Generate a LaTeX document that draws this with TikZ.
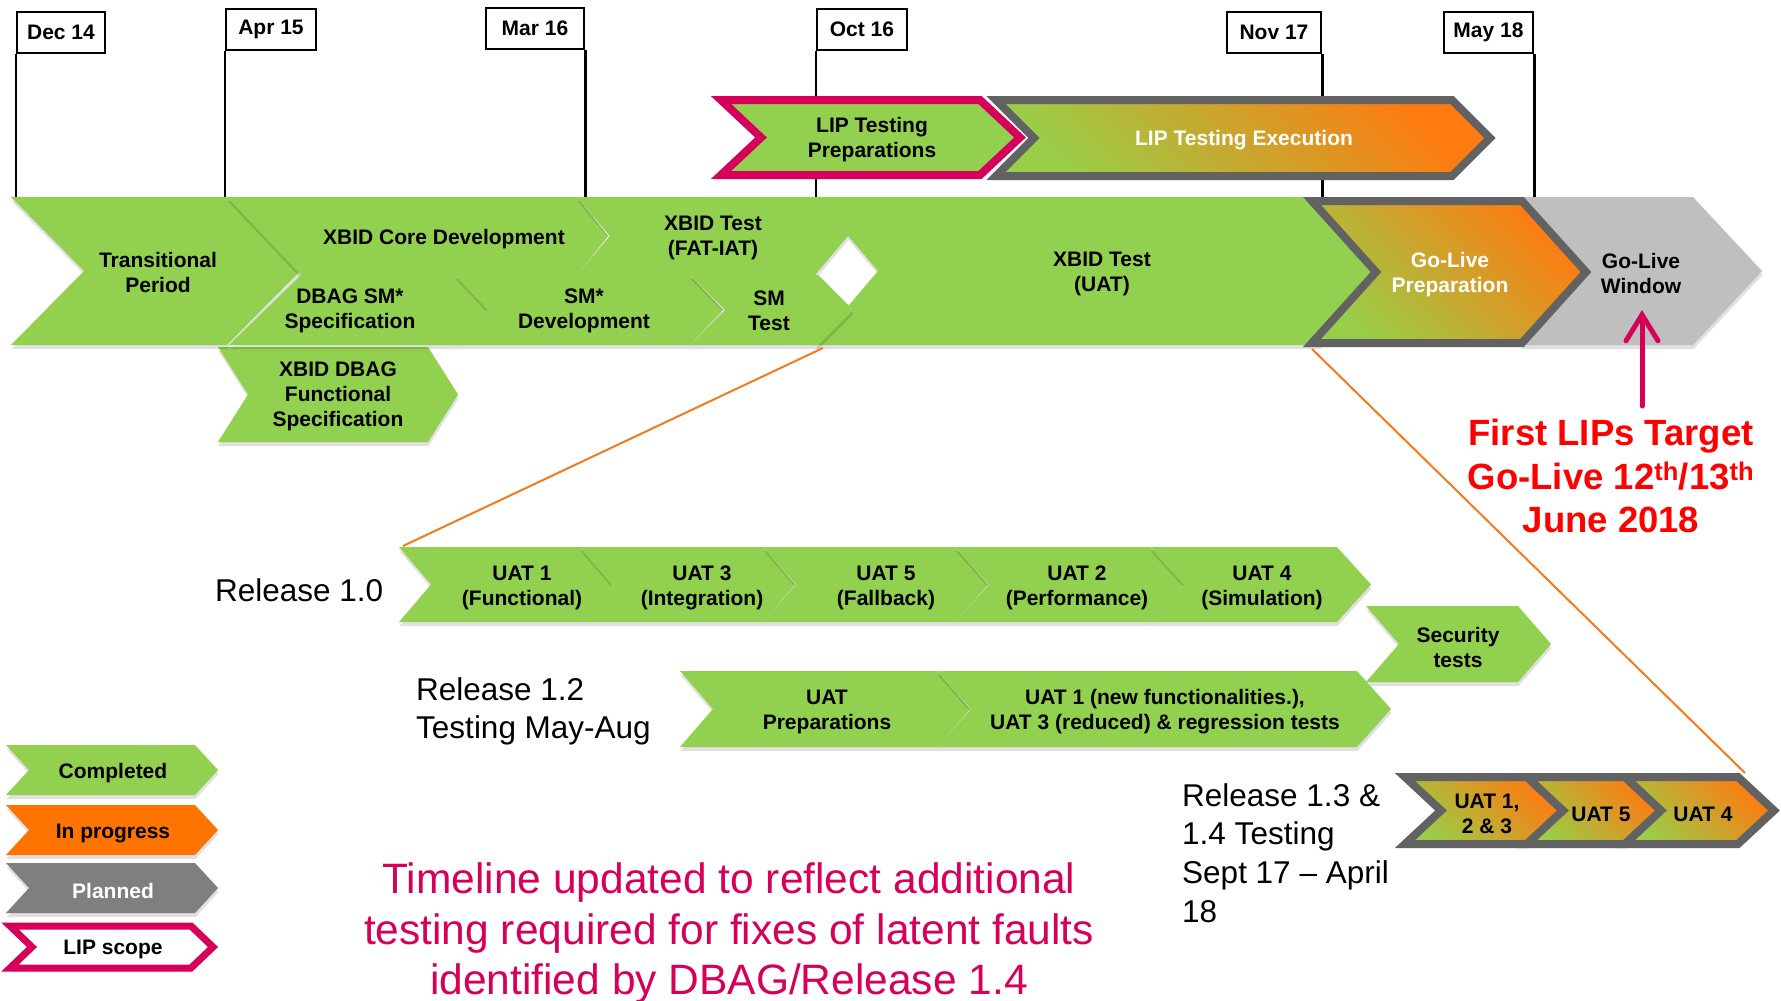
\documentclass[tikz,border=0pt]{standalone}
\usepackage{fontspec}
\setmainfont{Liberation Sans}
\usetikzlibrary{shadows,arrows.meta}
\definecolor{cgreen}{HTML}{92D050}
\definecolor{corange}{HTML}{FF7300}
\definecolor{cgreyd}{HTML}{7F7F7F}
\definecolor{cgreyl}{HTML}{BFBFBF}
\definecolor{cborder}{HTML}{626262}
\definecolor{cpink}{HTML}{D6005B}
\definecolor{cgradtop}{HTML}{FF7A10}
\definecolor{cgradbot}{HTML}{9ACD48}
\definecolor{cline}{HTML}{F47A20}
\newcommand\mychev[6][]{%
  \pgfmathsetmacro\chevmid{(#4+#5)/2}%
  \path[#1] (#2,#4) -- (#3,#4) -- ({#3+#6},\chevmid) -- (#3,#5) -- (#2,#5) -- ({#2+#6},\chevmid) -- cycle;}
\tikzset{
  shd/.style={drop shadow={shadow xshift=0.5pt,shadow yshift=-4pt,opacity=0.12,fill=black}},
  shp/.style={fill=cgreen,shd},
  gradshape/.style={draw=cborder,line width=8pt,top color=cgradtop,bottom color=cgradbot,shading angle=-45,shd},
  lipshape/.style={draw=cpink,line width=8pt,fill=cgreen,shd},
  lbl/.style={font=\bfseries\fontsize{21}{25}\selectfont,align=center,inner sep=0pt,yshift=-2pt},
  datebox/.style={draw,line width=2.5pt,fill=white,font=\bfseries\fontsize{21}{25}\selectfont,inner sep=0pt,minimum height=41pt},
  tick/.style={line width=2.5pt},
  reltxt/.style={font=\fontsize{31.5}{38.6}\selectfont,align=left,inner sep=0pt,anchor=west},
  orline/.style={draw=cline,line width=2pt},
}
\begin{document}
\begin{tikzpicture}[x=1pt,y=-1pt]
\useasboundingbox[fill=white] (0,0) rectangle (1781,1001);
\coordinate (bandtop) at (0,197);
% date boxes
\node[datebox,minimum width=88pt] (d1) at (61,32.5) {Dec 14};
\node[datebox,minimum width=90pt] (d2) at (271,29.5) {Apr 15};
\node[datebox,minimum width=98pt] (d3) at (535,28.5) {Mar 16};
\node[datebox,minimum width=90pt] (d4) at (862,29.5) {Oct 16};
\node[datebox,minimum width=94pt] (d5) at (1274,32.5) {Nov 17};
\node[datebox,minimum width=89pt] (d6) at (1488.5,32.5) {May 18};
\draw[tick] (d1.south west) -- (d1.south west |- bandtop);
\draw[tick] (d2.south west) -- (d2.south west |- bandtop);
\draw[tick] (d3.south east) -- (d3.south east |- bandtop);
\draw[tick] (d4.south west) -- (d4.south west |- bandtop);
\draw[tick] (d5.south east) -- (d5.south east |- bandtop);
\draw[tick] (d6.south east) -- (d6.south east |- bandtop);
% top LIP row
\mychev[lipshape]{721}{980}{100}{175}{40}
\mychev[gradshape]{996}{1452}{100}{176}{38}
% main band
\mychev[shp]{218}{428}{347}{442}{30}
\mychev[shp]{11}{227}{197}{345}{73}
\path[shp] (815,197) -- (1320,197) -- (1380,271) -- (1320,345) -- (815,345) -- (878,271) -- cycle;
\mychev[shp,fill=cgreyl]{1521}{1693}{197}{345}{69}
\mychev[gradshape]{1312}{1522}{201}{343}{64}
\path[shp] (227,197) -- (577,197) -- (608,236) -- (577,275) -- (301,275) -- cycle;
\mychev[shp]{577}{815}{197}{275}{33}
\path[shp] (301,275) -- (455,275) -- (488,310) -- (455,345) -- (229,345) -- cycle;
\mychev[shp]{455}{690}{275}{345}{33}
\mychev[shp]{690}{818}{275}{345}{35}
% release 1.0
\mychev[shp]{399}{580}{547}{622}{32}
\mychev[shp]{580}{763}{547}{622}{32}
\mychev[shp]{763}{955}{547}{622}{33}
\mychev[shp]{955}{1150}{547}{622}{34}
\mychev[shp]{1150}{1337}{547}{622}{34}
\mychev[shp]{1366}{1518}{606}{682}{33}
% release 1.2
\mychev[shp]{680}{937}{671}{747}{33}
\mychev[shp]{937}{1357}{671}{747}{34}
% release 1.3
\mychev[gradshape]{1405}{1527}{777}{844}{36}
\mychev[gradshape]{1527}{1625}{777}{844}{36}
\mychev[gradshape]{1625}{1738}{777}{844}{36}
% legend
\mychev[shp]{6}{195}{745}{795}{23}
\mychev[shp,fill=corange]{6}{195}{805}{855}{23}
\mychev[shp,fill=cgreyd]{6}{195}{863}{913}{23}
\mychev[draw=cpink,line width=7pt,fill=white,shd]{10}{191}{926}{968}{22}
% labels
\node[lbl] (lipprep) at (872,138) {LIP Testing\\Preparations};
\node[lbl,text=white] (lipexec) at (1244,138) {LIP Testing Execution};
\node[lbl] (trans) at (158,270) {Transitional\\Period};
\node[lbl] (coredev) at (444,237) {XBID Core Development};
\node[lbl] (fatiat) at (713,236) {XBID Test\\(FAT-IAT)};
\node[lbl] (dbagsm) at (350,309) {DBAG SM*\\Specification};
\node[lbl] (smdev) at (584,309) {SM*\\Development};
\node[lbl] (smtest) at (769,309) {SM\\Test};
\node[lbl] (dbagfs) at (338,394) {XBID DBAG\\Functional\\Specification};
\node[lbl] (uat) at (1102,272) {XBID Test\\(UAT)};
\node[lbl,text=white] (glprep) at (1450,273) {Go-Live\\Preparation};
\node[lbl] (glwin) at (1641,271) {Go-Live\\Window};
\node[lbl] (u1) at (522,586) {UAT 1\\(Functional)};
\node[lbl] (u3) at (702,586) {UAT 3\\(Integration)};
\node[lbl] (u5) at (886,586) {UAT 5\\(Fallback)};
\node[lbl] (u2) at (1077,586) {UAT 2\\(Performance)};
\node[lbl] (u4) at (1262,586) {UAT 4\\(Simulation)};
\node[lbl] (sec) at (1458,645) {Security\\tests};
\node[lbl] (uprep) at (827,710) {UAT\\Preparations};
\node[lbl] (unew) at (1165,710) {UAT 1 (new functionalities.),\\UAT 3 (reduced) \& regression tests};
\node[lbl] (v123) at (1487,812) {UAT 1,\\2 \& 3};
\node[lbl] (v5) at (1601,812) {UAT 5};
\node[lbl] (v4) at (1703,812) {UAT 4};
\node[lbl] (lg1) at (113,771) {Completed};
\node[lbl] (lg2) at (113,831) {In progress};
\node[lbl,text=white] (lg3) at (113,889) {Planned};
\node[lbl] (lg4) at (113,947) {LIP scope};
% release texts
\node[reltxt] (r10) at (215,590) {Release 1.0};
\node[reltxt] (r12) at (416,711.5) {Release 1.2\\Testing May-Aug};
\node[reltxt] (r13) at (1182,853) {Release 1.3 \&\\1.4 Testing\\Sept 17 – April\\18};
% notes
\node[font=\bfseries\fontsize{36.5}{43.5}\selectfont,text=red,align=center,inner sep=0pt] (target) at (1611,476) {First LIPs Target\\Go-Live 12\textsuperscript{th}/13\textsuperscript{th}\\June 2018};
\node[font=\fontsize{42.5}{50.5}\selectfont,text=cpink,align=center,inner sep=0pt] (note) at (729,933.5) {Timeline updated to reflect additional\\testing required for fixes of latent faults\\identified by DBAG/Release 1.4};
% connectors
\coordinate (smbot) at (823,348);
\coordinate (r10top) at (403,546);
\coordinate (glbot) at (1312,349);
\coordinate (v4top) at (1745,773);
\draw[orline] (smbot) -- (r10top);
\draw[orline] (glbot) -- (v4top);
\coordinate (arrS) at (1642,406);
\coordinate (arrE) at (1642,310);
\draw[cpink,line width=5pt,line cap=round,-{Straight Barb[length=26pt,width=32pt,line cap=round]}] (arrS) -- (arrE);
\end{tikzpicture}
\end{document}
